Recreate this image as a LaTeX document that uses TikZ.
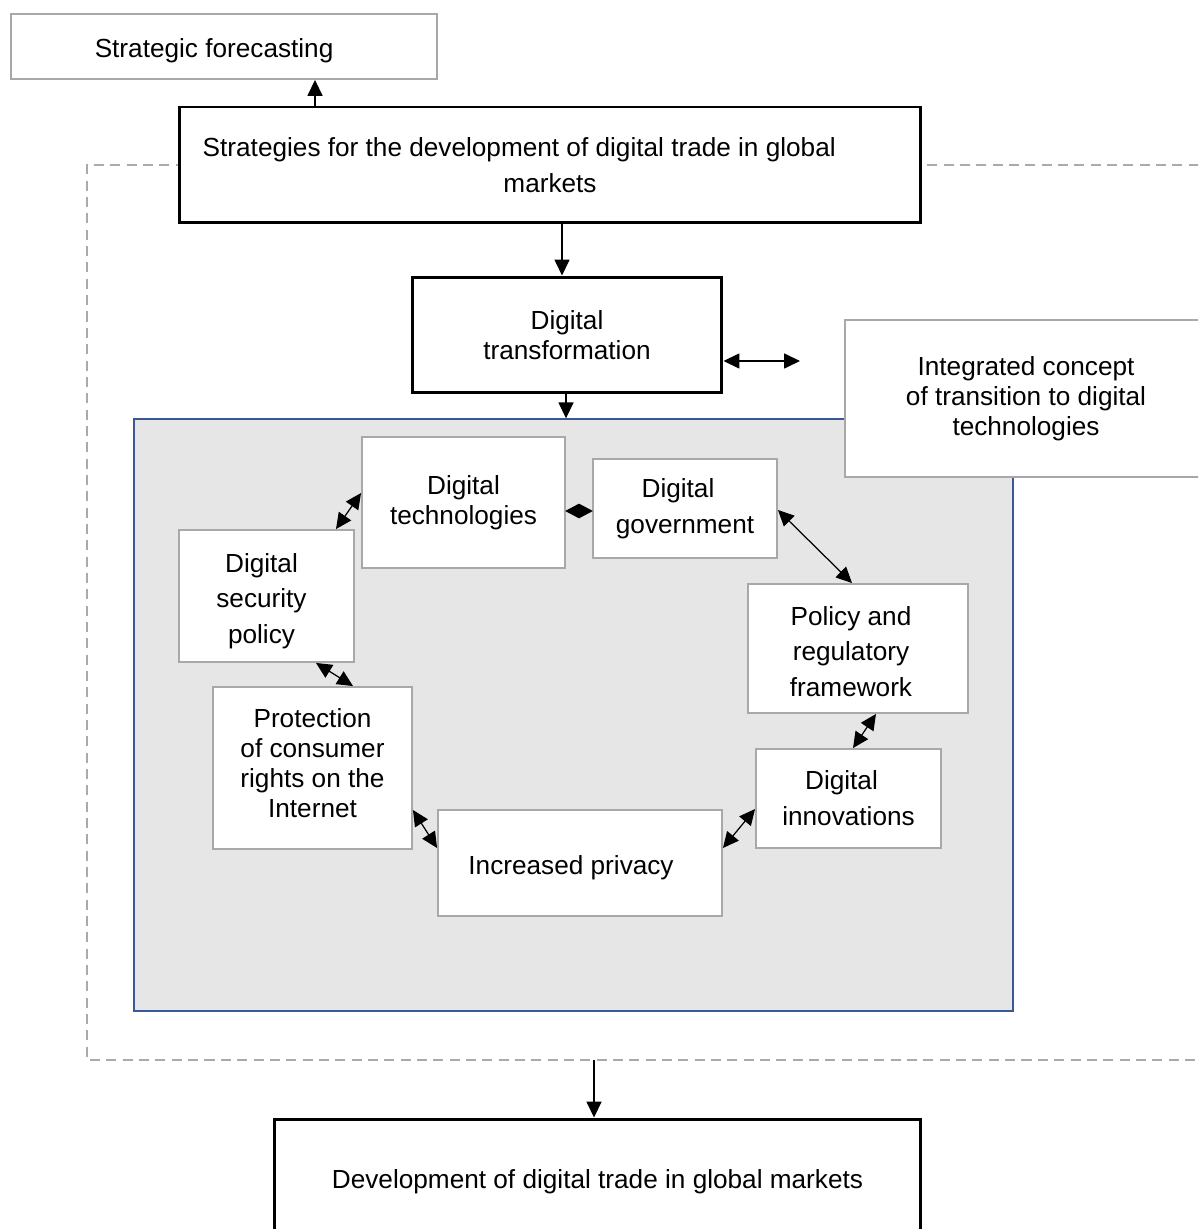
\documentclass[tikz,border=0pt]{standalone}
\usepackage{fontspec}
\setmainfont{Liberation Sans}
\usetikzlibrary{arrows.meta,shapes.geometric}
\definecolor{boxgray}{RGB}{168,168,168}
\definecolor{panelfill}{RGB}{230,230,230}
\definecolor{panelblue}{RGB}{59,88,150}
\definecolor{dashgray}{RGB}{170,170,170}

\begin{document}
\begin{tikzpicture}[x=0.02cm,y=-0.02cm,
  font=\fontsize{14.9}{17}\selectfont,
  size/.style 2 args={minimum width=#1*0.5690551pt, minimum height=#2*0.5690551pt},
  heavybox/.style={draw=black,line width=1.7pt,fill=white,inner sep=0pt,align=center},
  lightbox/.style={draw=boxgray,line width=1.1pt,fill=white,inner sep=0pt,align=center},
  widelines/.style={font=\fontsize{14.9}{20.4}\selectfont},
  link/.style={line width=0.7pt,-{Triangle[length=9pt,width=8.5pt]}},
  twoway/.style={line width=0.7pt,{Triangle[length=9pt,width=8.5pt]}-{Triangle[length=9pt,width=8.5pt]}},
]
\path[use as bounding box] (0,0) rectangle (1198,1229);
\clip (0,0) rectangle (1198,1229);

% dashed frame around the strategic block
\draw[dashgray,line width=1.1pt,dash pattern=on 5.7pt off 3.6pt]
  (1215,165) -- (87,165) -- (87,1060) -- (1215,1060);

% top level
\node[lightbox,size={426}{65}] (fore) at (224,46.5) {\rule{0pt}{15.5pt}Strategic forecasting\kern 11.3pt};
\node[heavybox,size={742}{116},widelines] (strat) at (550,165)
  {Strategies for the development of digital trade in global\hspace*{35pt}\\markets};
\node[heavybox,size={310}{116}] (dtrans) at (567,335) {Digital\\transformation};

% grey panel with the cycle of digital policies
\node[draw=panelblue,fill=panelfill,line width=0.85pt,inner sep=0pt,size={879}{592}] (panel) at (573.5,715) {};
\node[lightbox,size={362}{157}] (integ) at (1026,398.5)
  {Integrated concept\\of transition to digital\\technologies};

\node[lightbox,size={203}{131}] (dtech) at (463.5,502.5) {Digital\\technologies};
\node[lightbox,size={184}{99},widelines] (dgov) at (685,508.5) {Digital\kern 8pt\\government};
\node[lightbox,size={175}{132},widelines] (dsp) at (266.5,596)
  {\rule{0pt}{16.6pt}Digital\kern 5.7pt\\security\kern 5.7pt\\policy\kern 5.7pt};
\node[lightbox,size={220}{129},widelines] (policy) at (858,648.5)
  {\rule{0pt}{14.3pt}Policy and\kern 8pt\\regulatory\kern 8pt\\framework\kern 8pt};
\node[lightbox,size={199}{162}] (prot) at (312.5,768)
  {Protection\\of consumer\\rights on the\\Internet\rule[-5.7pt]{0pt}{0pt}};
\node[lightbox,size={185}{99},widelines] (innov) at (848.5,798.5) {Digital\kern 8pt\\innovations};
\node[lightbox,size={284}{106}] (priv) at (580,863) {\rule{0pt}{16.6pt}Increased privacy\kern 10.2pt};

% bottom result
\node[heavybox,size={647}{120}] (result) at (597.5,1179)
  {\rule{0pt}{14.3pt}Development of digital trade in global markets};

% connectors
\draw[link] (strat.north -| 315,0) -- (fore.south -| 315,0);
\draw[link] (strat.south -| 562,0) -- (dtrans.north -| 562,0);
\draw[link] (dtrans.south -| 566,0) -- (panel.north -| 566,0);
\coordinate (freeend) at (800,361);
\draw[twoway] (dtrans.east |- freeend) -- (freeend);
\coordinate (framebottom) at (594,1060);
\draw[link] (framebottom) -- (result.north -| framebottom);

\node[diamond,fill=black,inner sep=0pt,aspect=1.87,size={28}{15}] (join) at (579,511) {};

\draw[twoway] (dtech.west |- 0,493) -- (dsp.north -| 336,0);
\draw[twoway] (dsp.south -| 316,0) -- (prot.north -| 353,0);
\draw[twoway] (prot.east |- 0,810) -- (priv.west |- 0,848);
\draw[twoway] (priv.east |- 0,848) -- (innov.west |- 0,809);
\draw[twoway] (innov.north -| 853,0) -- (policy.south -| 876,0);
\draw[twoway] (dgov.east |- 0,510) -- (policy.north -| 852,0);
\end{tikzpicture}
\end{document}
